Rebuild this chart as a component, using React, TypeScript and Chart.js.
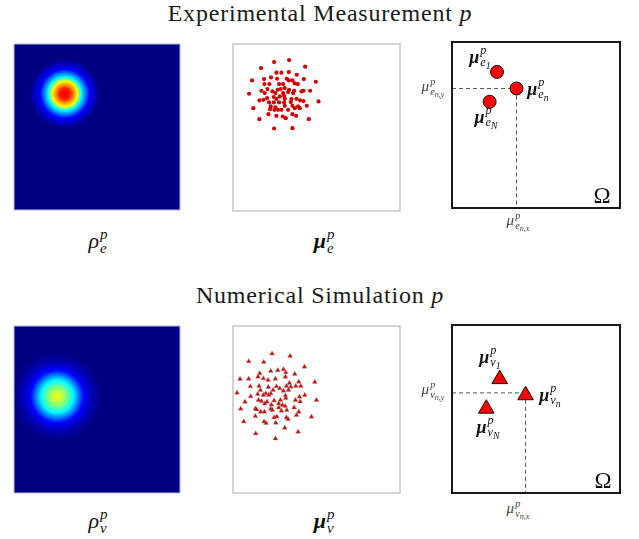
import React, { useEffect, useRef } from "react";
import { Chart, registerables } from "chart.js";

Chart.register(...registerables);

const SERIF = '"Liberation Serif", "Times New Roman", "DejaVu Serif", serif';

// ---------- data (panel units 0..500, y measured downward) ----------
const rowTitles = ["Experimental Measurement", "Numerical Simulation"];

// density maps rho_e^p / rho_v^p : centre of the blob and colour rings
const expDensityCenter = { x: 153, y: 150 };
const expDensityRadii = [0, 16, 27, 38, 50, 62, 74, 105];
const expDensityColors = ["#f00000", "#ff1800", "#ff9000", "#ffff00", "#00ffff", "#0080ff", "#0000ff", "#000080"];

const simDensityCenter = { x: 130, y: 211 };
const simDensityRadii = [0, 12, 28, 48, 64, 80, 105, 135];
const simDensityColors = ["#eaff10", "#d0ff30", "#80ff80", "#00ffff", "#0080ff", "#0000ff", "#0000b0", "#000080"];

// sampled positions mu_e^p (dots)
const expPoints: [number, number][] = [
  [168, 48], [123, 54], [84, 72], [216, 68], [130, 86], [145, 86], [167, 84], [191, 92],
  [57, 109], [93, 105], [114, 100], [132, 104], [161, 104], [178, 109], [212, 105], [248, 113],
  [94, 120], [109, 120], [138, 120], [150, 120], [185, 118], [194, 120], [85, 140], [103, 135],
  [118, 142], [134, 137], [143, 135], [155, 132], [168, 137], [183, 140], [205, 142], [211, 140],
  [231, 140], [48, 149], [95, 147], [127, 147], [150, 147], [165, 144], [180, 147], [122, 159],
  [140, 157], [153, 155], [79, 169], [91, 167], [102, 162], [130, 164], [155, 164], [175, 165],
  [190, 164], [201, 169], [211, 171], [256, 172], [108, 175], [122, 175], [138, 175], [153, 175],
  [173, 174], [61, 192], [113, 187], [127, 190], [155, 185], [178, 185], [195, 187], [221, 185],
  [111, 195], [124, 197], [135, 197], [145, 197], [165, 197], [185, 192], [200, 192], [106, 210],
  [130, 215], [149, 217], [158, 222], [178, 210], [189, 215], [79, 225], [227, 225], [123, 253],
  [178, 252], [167, 109],
];

// simulated positions mu_v^p (triangles)
const simPoints: [number, number][] = [
  [117, 83], [171, 90], [47, 106], [92, 108], [214, 122], [151, 130], [113, 135], [134, 133],
  [158, 139], [80, 142], [185, 144], [21, 159], [47, 158], [75, 152], [91, 157], [105, 162],
  [127, 158], [157, 152], [197, 167], [245, 168], [169, 171], [78, 180], [52, 181], [106, 183],
  [130, 181], [160, 180], [188, 180], [203, 180], [82, 192], [120, 192], [140, 187], [98, 202],
  [113, 202], [151, 194], [166, 192], [12, 200], [53, 211], [74, 204], [91, 207], [107, 207],
  [157, 208], [215, 207], [199, 212], [36, 227], [76, 222], [85, 225], [102, 227], [123, 223],
  [142, 222], [158, 216], [187, 222], [201, 226], [250, 222], [137, 232], [115, 236], [148, 237],
  [23, 248], [67, 247], [71, 250], [83, 257], [94, 257], [113, 248], [118, 252], [137, 244],
  [156, 240], [183, 244], [197, 257], [145, 254], [161, 252], [67, 270], [123, 274], [131, 271],
  [160, 274], [165, 279], [190, 267], [235, 272], [32, 286], [93, 286], [99, 291], [128, 290],
  [155, 305], [195, 317], [68, 322], [127, 337], [173, 182], [95, 232],
];

// schematic panels: three representative modes, index 1 = the n-th one
const expModeX = [134, 192, 112];
const expModeY = [90, 140, 180];
const simModeX = [142, 219, 102];
const simModeY = [161, 209, 249];
const simGuideY = 202;

// ---------- helpers ----------
const hiddenScales = () => ({
  x: { type: "linear", min: 0, max: 500, display: false },
  y: { type: "linear", min: 0, max: 500, reverse: true, display: false },
});

const baseOptions = (pad: number) => ({
  responsive: false,
  maintainAspectRatio: false,
  animation: false,
  events: [],
  layout: { padding: pad, autoPadding: false },
  plugins: { legend: { display: false }, tooltip: { enabled: false }, title: { display: false } },
  scales: hiddenScales(),
});

function framePlugin(stroke: string, width: number, fill?: string) {
  return {
    id: "frame",
    beforeDatasetsDraw(chart: any) {
      if (!fill) return;
      const { left, top, right, bottom } = chart.chartArea;
      const c = chart.ctx;
      c.save();
      c.fillStyle = fill;
      c.fillRect(left, top, right - left, bottom - top);
      c.restore();
    },
    afterDatasetsDraw(chart: any) {
      const { left, top, right, bottom } = chart.chartArea;
      const c = chart.ctx;
      c.save();
      c.strokeStyle = stroke;
      c.lineWidth = width;
      c.strokeRect(left, top, right - left, bottom - top);
      c.restore();
    },
  };
}

function densityConfig(center: { x: number; y: number }, radii: number[], colors: string[]) {
  const R = radii[radii.length - 1];
  const geom = (chart: any) => {
    const sx = chart.scales && chart.scales.x;
    const sy = chart.scales && chart.scales.y;
    if (!sx || !sy) return null;
    const cx = sx.getPixelForValue(center.x);
    const cy = sy.getPixelForValue(center.y);
    const r = Math.abs(sx.getPixelForValue(center.x + R) - cx);
    if (![cx, cy, r].every(Number.isFinite) || r <= 0) return null;
    return { cx, cy, r };
  };
  return {
    type: "scatter",
    data: {
      datasets: [
        {
          data: [center],
          clip: 0,
          borderWidth: 0,
          pointRadius: (ctx: any) => {
            const g = geom(ctx.chart);
            return g ? g.r : 0;
          },
          backgroundColor: (ctx: any) => {
            const g = geom(ctx.chart);
            if (!g) return colors[colors.length - 1];
            const grad = ctx.chart.ctx.createRadialGradient(g.cx, g.cy, 0, g.cx, g.cy, g.r);
            radii.forEach((rv, i) => grad.addColorStop(rv / R, colors[i]));
            return grad;
          },
        },
      ],
    },
    options: baseOptions(2),
    plugins: [framePlugin("#b8b8d8", 1, "#000080")],
  };
}

function cloudConfig(points: [number, number][], style: string) {
  const tri = style === "triangle";
  return {
    type: "scatter",
    data: {
      datasets: [
        {
          data: points.map(([x, y]) => ({ x, y })),
          pointStyle: style,
          pointRadius: tri ? 2.8 : 2.1,
          backgroundColor: tri ? "#d80000" : "#d20000",
          borderColor: tri ? "rgba(150,150,150,0.7)" : "#d20000",
          borderWidth: tri ? 0.6 : 0,
          clip: false,
        },
      ],
    },
    options: baseOptions(3),
    plugins: [framePlugin("#c6c6c6", 1.5)],
  };
}

function schematicConfig(xs: number[], ys: number[], style: string, radius: number, guideY: number) {
  const gx = xs[1];
  return {
    type: "scatter",
    data: {
      datasets: [
        {
          order: 0,
          data: xs.map((x, i) => ({ x, y: ys[i] })),
          pointStyle: style,
          pointRadius: radius,
          backgroundColor: "#ff0000",
          borderColor: "#111111",
          borderWidth: 1,
          clip: false,
        },
        {
          order: 1,
          data: [{ x: 0, y: guideY }, { x: gx, y: guideY }],
          showLine: true,
          pointRadius: 0,
          borderColor: "#555555",
          borderWidth: 1,
          borderDash: [4, 3],
          clip: false,
        },
        {
          order: 1,
          data: [{ x: gx, y: guideY }, { x: gx, y: 500 }],
          showLine: true,
          pointRadius: 0,
          borderColor: "#555555",
          borderWidth: 1,
          borderDash: [4, 3],
          clip: false,
        },
      ],
    },
    options: baseOptions(3),
    plugins: [framePlugin("#1a1a1a", 2)],
  };
}

function ChartBox({ box, pad, make }: { box: number[]; pad: number; make: () => any }) {
  const ref = useRef<HTMLCanvasElement>(null);
  const [x, y, w, h] = box;
  useEffect(() => {
    const chart = new Chart(ref.current as HTMLCanvasElement, make());
    chart.update();
    return () => chart.destroy();
  }, []);
  return (
    <canvas
      ref={ref}
      width={w + 2 * pad}
      height={h + 2 * pad}
      style={{ position: "absolute", left: x - pad, top: y - pad, width: w + 2 * pad, height: h + 2 * pad }}
    />
  );
}

function Sym(props: {
  x: number; y: number; base: string; sup?: string; sub?: string; subsub?: string;
  size: number; bold?: boolean; color?: string; upright?: boolean;
}) {
  const { x, y, base, sup, sub, subsub, size, bold, color, upright } = props;
  const s = size * 0.68;
  return (
    <div
      style={{
        position: "absolute", left: x, top: y, transform: "translate(-50%, -50%)",
        fontFamily: SERIF, color: color || "#111", whiteSpace: "nowrap", lineHeight: 1,
      }}
    >
      <span style={{ display: "inline-flex", alignItems: "center" }}>
        <span style={{ fontSize: size, fontStyle: upright ? "normal" : "italic", fontWeight: bold ? 700 : 400 }}>{base}</span>
        {(sup || sub) && (
          <span style={{ display: "inline-flex", flexDirection: "column", fontSize: s, fontStyle: "italic", marginLeft: 1, lineHeight: 0.95 }}>
            <span>{sup}</span>
            <span>
              {sub}
              {subsub && <span style={{ fontSize: "0.8em", position: "relative", top: "0.3em" }}>{subsub}</span>}
            </span>
          </span>
        )}
      </span>
    </div>
  );
}

function Title({ y, text }: { y: number; text: string }) {
  return (
    <div
      style={{
        position: "absolute", left: 320, top: y, transform: "translateX(-50%)", fontFamily: SERIF,
        fontSize: 24, lineHeight: 1, letterSpacing: 0.8, color: "#1a1a1a", whiteSpace: "nowrap",
      }}
    >
      {text} <i>p</i>
    </div>
  );
}

export default function App() {
  return (
    <div style={{ position: "absolute", left: 0, top: 0, width: 639, height: 539, background: "#fff", overflow: "hidden" }}>
      <Title y={1} text={rowTitles[0]} />
      <Title y={283} text={rowTitles[1]} />

      <ChartBox box={[14, 44, 166, 166]} pad={2} make={() => densityConfig(expDensityCenter, expDensityRadii, expDensityColors)} />
      <ChartBox box={[233, 44, 167, 167]} pad={3} make={() => cloudConfig(expPoints, "circle")} />
      <ChartBox box={[452, 42, 168, 166]} pad={3} make={() => schematicConfig(expModeX, expModeY, "circle", 6.5, expModeY[1])} />

      <ChartBox box={[14, 326, 166, 167]} pad={2} make={() => densityConfig(simDensityCenter, simDensityRadii, simDensityColors)} />
      <ChartBox box={[233, 326, 167, 167]} pad={3} make={() => cloudConfig(simPoints, "triangle")} />
      <ChartBox box={[452, 325, 168, 168]} pad={3} make={() => schematicConfig(simModeX, simModeY, "triangle", 9, simGuideY)} />

      <Sym x={98} y={241} base="ρ" sup="p" sub="e" size={22} />
      <Sym x={324} y={241} base="μ" sup="p" sub="e" size={22} bold />
      <Sym x={98} y={521} base="ρ" sup="p" sub="v" size={22} />
      <Sym x={324} y={521} base="μ" sup="p" sub="v" size={22} bold />

      <Sym x={480} y={57} base="μ" sup="p" sub="e" subsub="1" size={18} bold />
      <Sym x={538} y={89} base="μ" sup="p" sub="e" subsub="n" size={18} bold />
      <Sym x={486} y={117} base="μ" sup="p" sub="e" subsub="N" size={18} bold />
      <Sym x={433} y={87} base="μ" sup="p" sub="e" subsub="n,y" size={15} color="#444" />
      <Sym x={518} y={221} base="μ" sup="p" sub="e" subsub="n,x" size={15} color="#444" />
      <Sym x={602} y={195} base="Ω" size={23} upright />

      <Sym x={490} y={357} base="μ" sup="p" sub="v" subsub="1" size={18} bold />
      <Sym x={550} y={395} base="μ" sup="p" sub="v" subsub="n" size={18} bold />
      <Sym x={488} y={427} base="μ" sup="p" sub="v" subsub="N" size={18} bold />
      <Sym x={433} y={390} base="μ" sup="p" sub="v" subsub="n,y" size={15} color="#444" />
      <Sym x={518} y={509} base="μ" sup="p" sub="v" subsub="n,x" size={15} color="#444" />
      <Sym x={603} y={480} base="Ω" size={23} upright />
    </div>
  );
}
